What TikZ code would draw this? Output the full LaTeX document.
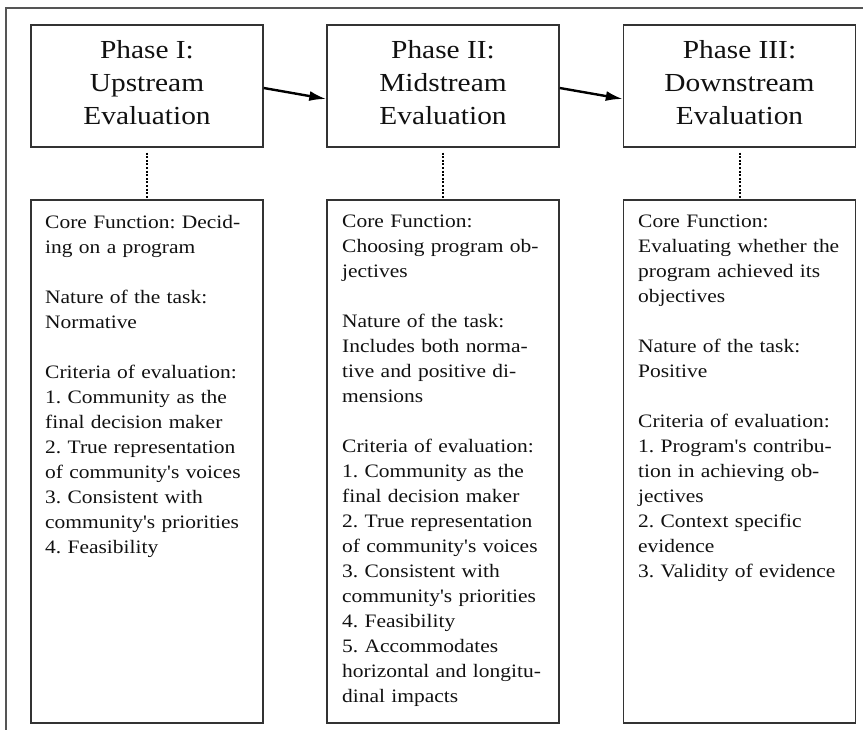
\documentclass[tikz,border=0pt]{standalone}
\usepackage{fontspec}
\setmainfont{Liberation Serif}[Ligatures=TeXOff, FakeStretch=1.13]
\usetikzlibrary{arrows.meta}
\definecolor{linegray}{HTML}{333333}
\definecolor{framegray}{HTML}{555555}
\definecolor{inkcol}{HTML}{111111}
\frenchspacing
\begin{document}
\begin{tikzpicture}[x=1pt,y=-1pt,
  phasebox/.style={draw=linegray, line width=1.4pt, minimum width=232pt, minimum height=122pt, inner sep=0pt},
  detailbox/.style={draw=linegray, line width=1.4pt, minimum width=232pt, minimum height=523pt, inner sep=0pt},
  titletext/.style={align=center, inner sep=0pt, text=inkcol, font=\fontsize{26}{33}\selectfont},
  bodytext/.style={align=left, text width=212pt, inner sep=0pt, anchor=north west, text=inkcol, font=\fontsize{19}{25}\selectfont},
  flow/.style={line width=2.4pt, draw=black, -{Latex[length=17pt,width=10pt]}},
  tie/.style={line width=2pt, draw=black, dash pattern=on 2pt off 1.6pt}
]
\useasboundingbox (0,0) rectangle (863,730);
% outer frame
\draw[framegray, line width=1.6pt] (6,735) -- (6,8) -- (868,8);

% phase boxes
\node[phasebox] (p1) at (147,86) {};
\node[phasebox] (p2) at (443,86) {};
\node[phasebox] (p3) at (739.5,86) {};
\node[titletext] (t1) at ([yshift=3pt]p1.center) {Phase I:\\Upstream\\Evaluation};
\node[titletext] (t2) at ([yshift=3pt]p2.center) {Phase II:\\Midstream\\Evaluation};
\node[titletext] (t3) at ([yshift=3pt]p3.center) {Phase III:\\Downstream\\Evaluation};

% detail boxes
\node[detailbox] (b1) at (147,461.5) {};
\node[detailbox] (b2) at (443,461.5) {};
\node[detailbox] (b3) at (739.5,461.5) {};

\node[bodytext] (d1) at (45,215) {Core Function: Decid-\\ing on a program\\[25pt]Nature of the task:\\Normative\\[25pt]Criteria of evaluation:\\1. Community as the\\final decision maker\\2. True representation\\of community's voices\\3. Consistent with\\community's priorities\\4. Feasibility};
\node[bodytext] (d2) at (342,215) {Core Function:\\Choosing program ob-\\jectives\\[25pt]Nature of the task:\\Includes both norma-\\tive and positive di-\\mensions\\[25pt]Criteria of evaluation:\\1. Community as the\\final decision maker\\2. True representation\\of community's voices\\3. Consistent with\\community's priorities\\4. Feasibility\\5. Accommodates\\horizontal and longitu-\\dinal impacts};
\node[bodytext] (d3) at (638,215) {Core Function:\\Evaluating whether the\\program achieved its\\objectives\\[25pt]Nature of the task:\\Positive\\[25pt]Criteria of evaluation:\\1. Program's contribu-\\tion in achieving ob-\\jectives\\2. Context specific\\evidence\\3. Validity of evidence};

% sequence arrows
\draw[flow] ([yshift=-2pt]p1.east) -- ([yshift=-13pt]p2.west);
\draw[flow] ([yshift=-2pt]p2.east) -- ([yshift=-13pt]p3.west);

% dotted ties to detail boxes
\draw[tie] ([yshift=-5pt]p1.south) -- (b1.north);
\draw[tie] ([yshift=-5pt]p2.south) -- (b2.north);
\draw[tie] ([yshift=-5pt]p3.south) -- (b3.north);
\end{tikzpicture}
\end{document}
